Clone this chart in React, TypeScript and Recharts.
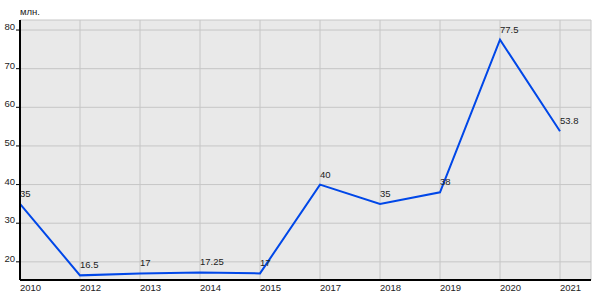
import { LineChart, Line, XAxis, YAxis, CartesianGrid, LabelList } from "recharts"

const years = ["2010", "2012", "2013", "2014", "2015", "2017", "2018", "2019", "2020", "2021"]
const values = [35, 16.5, 17, 17.25, 17, 40, 35, 38, 77.5, 53.8]
const yTicks = [20, 30, 40, 50, 60, 70, 80]
const unitLabel = "млн."

const font = "Arial, 'Liberation Sans', sans-serif"
const fontSize = 9.5
const textColor = "#222"

const XTick = (props: any) => {
    const { x, y, payload } = props
    return (
        <text x={x} y={y} dy={7} textAnchor="start" fontSize={fontSize} fontFamily={font} fill={textColor}>
            {payload.value}
        </text>
    )
}

const YTick = (props: any) => {
    const { x, y, payload } = props
    return (
        <text x={x} y={y} dy={0} textAnchor="end" fontSize={fontSize} fontFamily={font} fill={textColor}>
            {payload.value}
        </text>
    )
}

const PointLabel = (props: any) => {
    const { x, y, value } = props
    return (
        <text x={x} y={y} dy={-7} textAnchor="start" fontSize={fontSize} fontFamily={font} fill={textColor}>
            {value}
        </text>
    )
}

export default function App() {
    const data = years.map((year, i) => ({ year, value: values[i] }))

    return (
        <div style={{ position: "absolute", left: 0, top: 0, width: 600, height: 300, background: "#fff" }}>
            <div
                style={{
                    position: "absolute",
                    left: 20,
                    top: 6,
                    fontSize: fontSize,
                    fontFamily: font,
                    color: textColor,
                    lineHeight: "11px",
                }}
            >
                {unitLabel}
            </div>
            <LineChart width={600} height={300} data={data} margin={{ top: 20, right: 9, left: 0, bottom: 0 }}>
                <CartesianGrid fill="#e9e9e9" stroke="#c6c6c6" strokeWidth={1} />
                <XAxis
                    dataKey="year"
                    padding={{ left: 0, right: 31 }}
                    height={20}
                    tickLine={false}
                    tickSize={2}
                    tickMargin={2}
                    axisLine={{ stroke: "#000", strokeWidth: 2 }}
                    tick={<XTick />}
                    interval={0}
                />
                <YAxis
                    width={20}
                    domain={[15.3, 82.6]}
                    ticks={yTicks}
                    allowDataOverflow
                    tickSize={4}
                    tickMargin={1}
                    tickLine={{ stroke: "#000" }}
                    axisLine={{ stroke: "#000", strokeWidth: 2 }}
                    tick={<YTick />}
                />
                <Line
                    type="linear"
                    dataKey="value"
                    stroke="#0047e8"
                    strokeWidth={2}
                    dot={false}
                    isAnimationActive={false}
                >
                    <LabelList dataKey="value" content={<PointLabel />} />
                </Line>
            </LineChart>
        </div>
    )
}
